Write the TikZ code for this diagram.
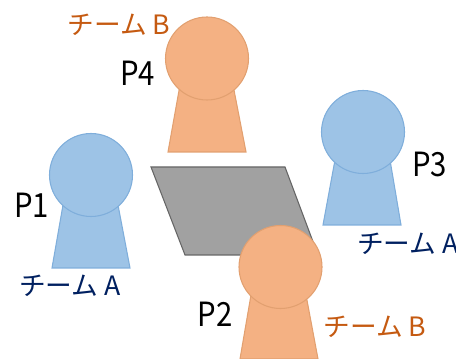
\documentclass[tikz,border=0pt]{standalone}
\usepackage{fontspec}
\usepackage{xcolor}
\setmainfont{Noto Sans CJK JP}
\newcommand{\narrowlabel}[1]{\scalebox{0.88}[1]{#1}}
\definecolor{teamblue}{HTML}{9DC3E6}
\definecolor{teamblueline}{HTML}{7FAEDB}
\definecolor{teamorange}{HTML}{F4B183}
\definecolor{teamorangeline}{HTML}{E2A070}
\definecolor{labelblue}{HTML}{002060}
\definecolor{labelorange}{HTML}{C55A11}
\tikzset{
  bluepart/.style={fill=teamblue,draw=teamblueline,line width=0.8pt},
  orangepart/.style={fill=teamorange,draw=teamorangeline,line width=0.8pt},
  playerlabel/.style={font=\fontsize{25}{25}\selectfont,inner sep=0pt},
  teamlabelA/.style={labelblue,font=\fontsize{20}{20}\selectfont,inner sep=0pt},
  teamlabelB/.style={labelorange,font=\fontsize{20}{20}\selectfont,inner sep=0pt}
}
\begin{document}
\begin{tikzpicture}[x=0.75pt,y=-0.75pt]
    \useasboundingbox (0,0) rectangle (456,359);
    % table
    \filldraw[fill=black!37,draw=black!60,line width=0.8pt] (151,167)--(285,167)--(318,255)--(185,255)--cycle;
    % P1
    \filldraw[bluepart] (63,205)--(118,205)--(130,268)--(52,268)--cycle;
    \filldraw[bluepart] (91,175) circle (41.5);
    \node[playerlabel] (p1) at (31.5,205){\narrowlabel{P1}};
    \node[teamlabelA] (teamp1) at (70,286){チーム A};
    % P4
    \filldraw[orangepart] (180,85)--(233,85)--(246,152)--(168,152)--cycle;
    \filldraw[orangepart] (207,58.5) circle (41.5);
    \node[playerlabel] (p4) at (137.5,73){\narrowlabel{P4}};
    \node[teamlabelB] (teamp4) at (119,25){チーム B};
    % P3
    \filldraw[bluepart] (335,160)--(390,160)--(401,225)--(323,225)--cycle;
    \filldraw[bluepart] (363,132) circle (41.5);
    \node[playerlabel] (p3) at (429.5,165){\narrowlabel{P3}};
    \node[teamlabelA] (teamp3) at (408,244){チーム A};
    % P2
    \filldraw[orangepart] (251,295)--(306,295)--(318,359)--(240,359)--cycle;
    \filldraw[orangepart] (280.5,267) circle (41.5);
    \node[playerlabel] (p2) at (215,314){\narrowlabel{P2}};
    \node[teamlabelB] (teamp2) at (375,327){チーム B};
\end{tikzpicture}
\end{document}
